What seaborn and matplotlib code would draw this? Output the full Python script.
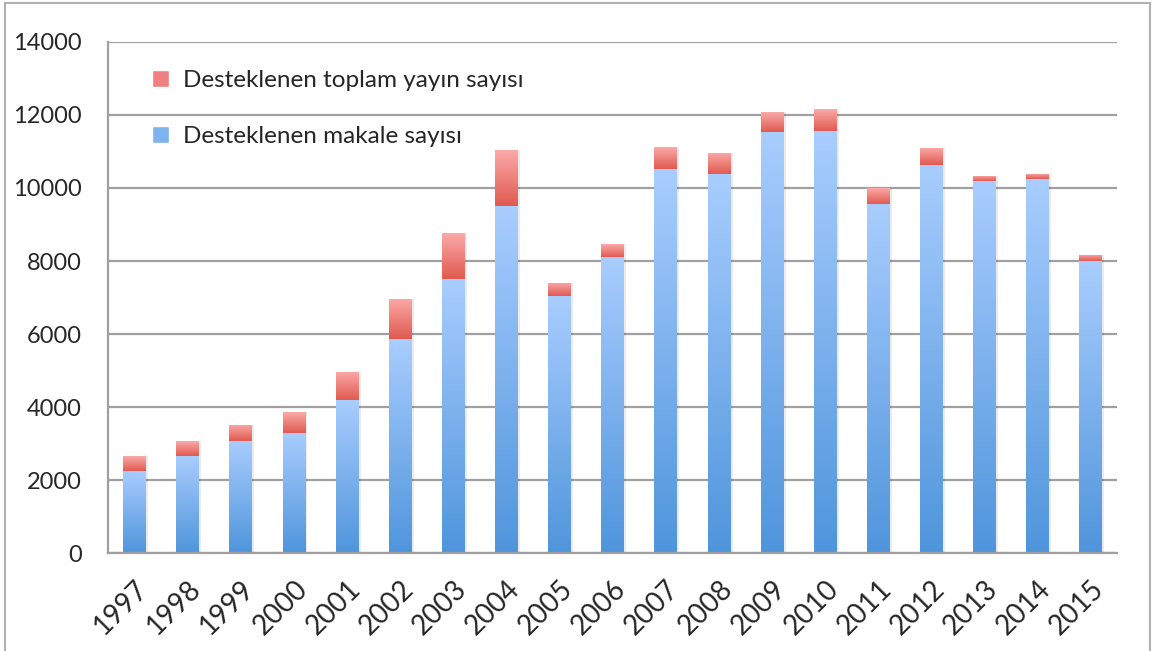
import numpy as np
import pandas as pd
import seaborn as sns
import matplotlib.pyplot as plt
from matplotlib.patches import Patch, Rectangle
from matplotlib.colors import LinearSegmentedColormap

years = [str(y) for y in range(1997, 2016)]
toplam_yayin = [2660, 3070, 3510, 3870, 4970, 6970, 8760, 11030, 7410, 8460,
                11120, 10960, 12070, 12160, 10000, 11100, 10320, 10380, 8160]
makale = [2260, 2660, 3070, 3300, 4200, 5870, 7520, 9500, 7040, 8110,
          10520, 10380, 11530, 11560, 9570, 10630, 10180, 10240, 7990]
labels = ["Desteklenen toplam yayın sayısı", "Desteklenen makale sayısı"]

df = pd.DataFrame({"yil": years, "toplam": toplam_yayin, "makale": makale})

sns.set_style("white")
plt.rcParams["font.family"] = ["Lato", "DejaVu Sans"]

fig = plt.figure(figsize=(11.55, 6.51), dpi=100)
fig.patches.append(Rectangle((0.004, -0.01), 0.992, 1.005, transform=fig.transFigure,
                             fill=False, edgecolor="#b0b0b0", linewidth=1.5))
ax = fig.add_axes([0.0935, 0.1505, 0.874, 0.785])

# shadows
shadow_kw = dict(color="#000000", alpha=0.08, width=0.47, ax=ax)
sns.barplot(data=df, x="yil", y="toplam", **shadow_kw)
n_shadow = len(ax.patches)
sns.barplot(data=df, x="yil", y="toplam", color="#F08080", width=0.43, ax=ax)
sns.barplot(data=df, x="yil", y="makale", color="#7DB4F0", width=0.43, ax=ax)

for p in ax.patches[:n_shadow]:
    p.set_x(p.get_x() + 0.02)
    p.set_linewidth(0)

red_cmap = LinearSegmentedColormap.from_list("r", ["#E05A50", "#FBAAA8"])
blue_cmap = LinearSegmentedColormap.from_list("b", ["#4F95DC", "#A9CDFE"])
grad = np.linspace(0, 1, 256).reshape(-1, 1)
patches = ax.patches[n_shadow:]
for i, p in enumerate(patches):
    cmap = red_cmap if i < len(years) else blue_cmap
    x0, y0 = p.get_x(), p.get_y()
    w, h = p.get_width(), p.get_height()
    lo = makale[i] if i < len(years) else 0
    im = ax.imshow(grad, cmap=cmap, aspect="auto", origin="lower",
                   extent=(x0, x0 + w, lo, y0 + h), zorder=p.get_zorder())
    im.set_clip_path(p)
    p.set_facecolor("none")
    p.set_linewidth(0)

ax.set_xlim(-0.5, len(years) - 0.5)
ax.set_ylim(0, 14000)
ax.set_yticks(range(0, 14001, 2000))
ax.yaxis.grid(True, color="#a0a0a0", linewidth=1.6)
ax.set_axisbelow(True)
for s in ["top", "right"]:
    ax.spines[s].set_visible(False)
for s in ["left", "bottom"]:
    ax.spines[s].set_color("#a0a0a0")
    ax.spines[s].set_linewidth(1.6)
ax.set_xlabel("")
ax.set_ylabel("")

ax.tick_params(axis="y", length=8, width=1.6, color="#a0a0a0", labelsize=17, pad=11)
ax.tick_params(axis="x", which="major", length=0, labelsize=20, pad=16)
ax.set_xticks(np.arange(-0.5, len(years), 1), minor=True)
ax.tick_params(axis="x", which="minor", length=8, width=1.6, color="#a0a0a0")
plt.setp(ax.get_xticklabels(), rotation=45, ha="right", rotation_mode="anchor")

handles = [Patch(facecolor="#F08080", label=labels[0]),
           Patch(facecolor="#7DB4F0", label=labels[1])]
ax.legend(handles=handles, loc="upper left", bbox_to_anchor=(0.044, 0.945),
          frameon=False, fontsize=17.5, handlelength=0.7, handleheight=0.7,
          handletextpad=0.55, labelspacing=1.45, borderpad=0, borderaxespad=0)

fig.savefig("out.png", dpi=100)
